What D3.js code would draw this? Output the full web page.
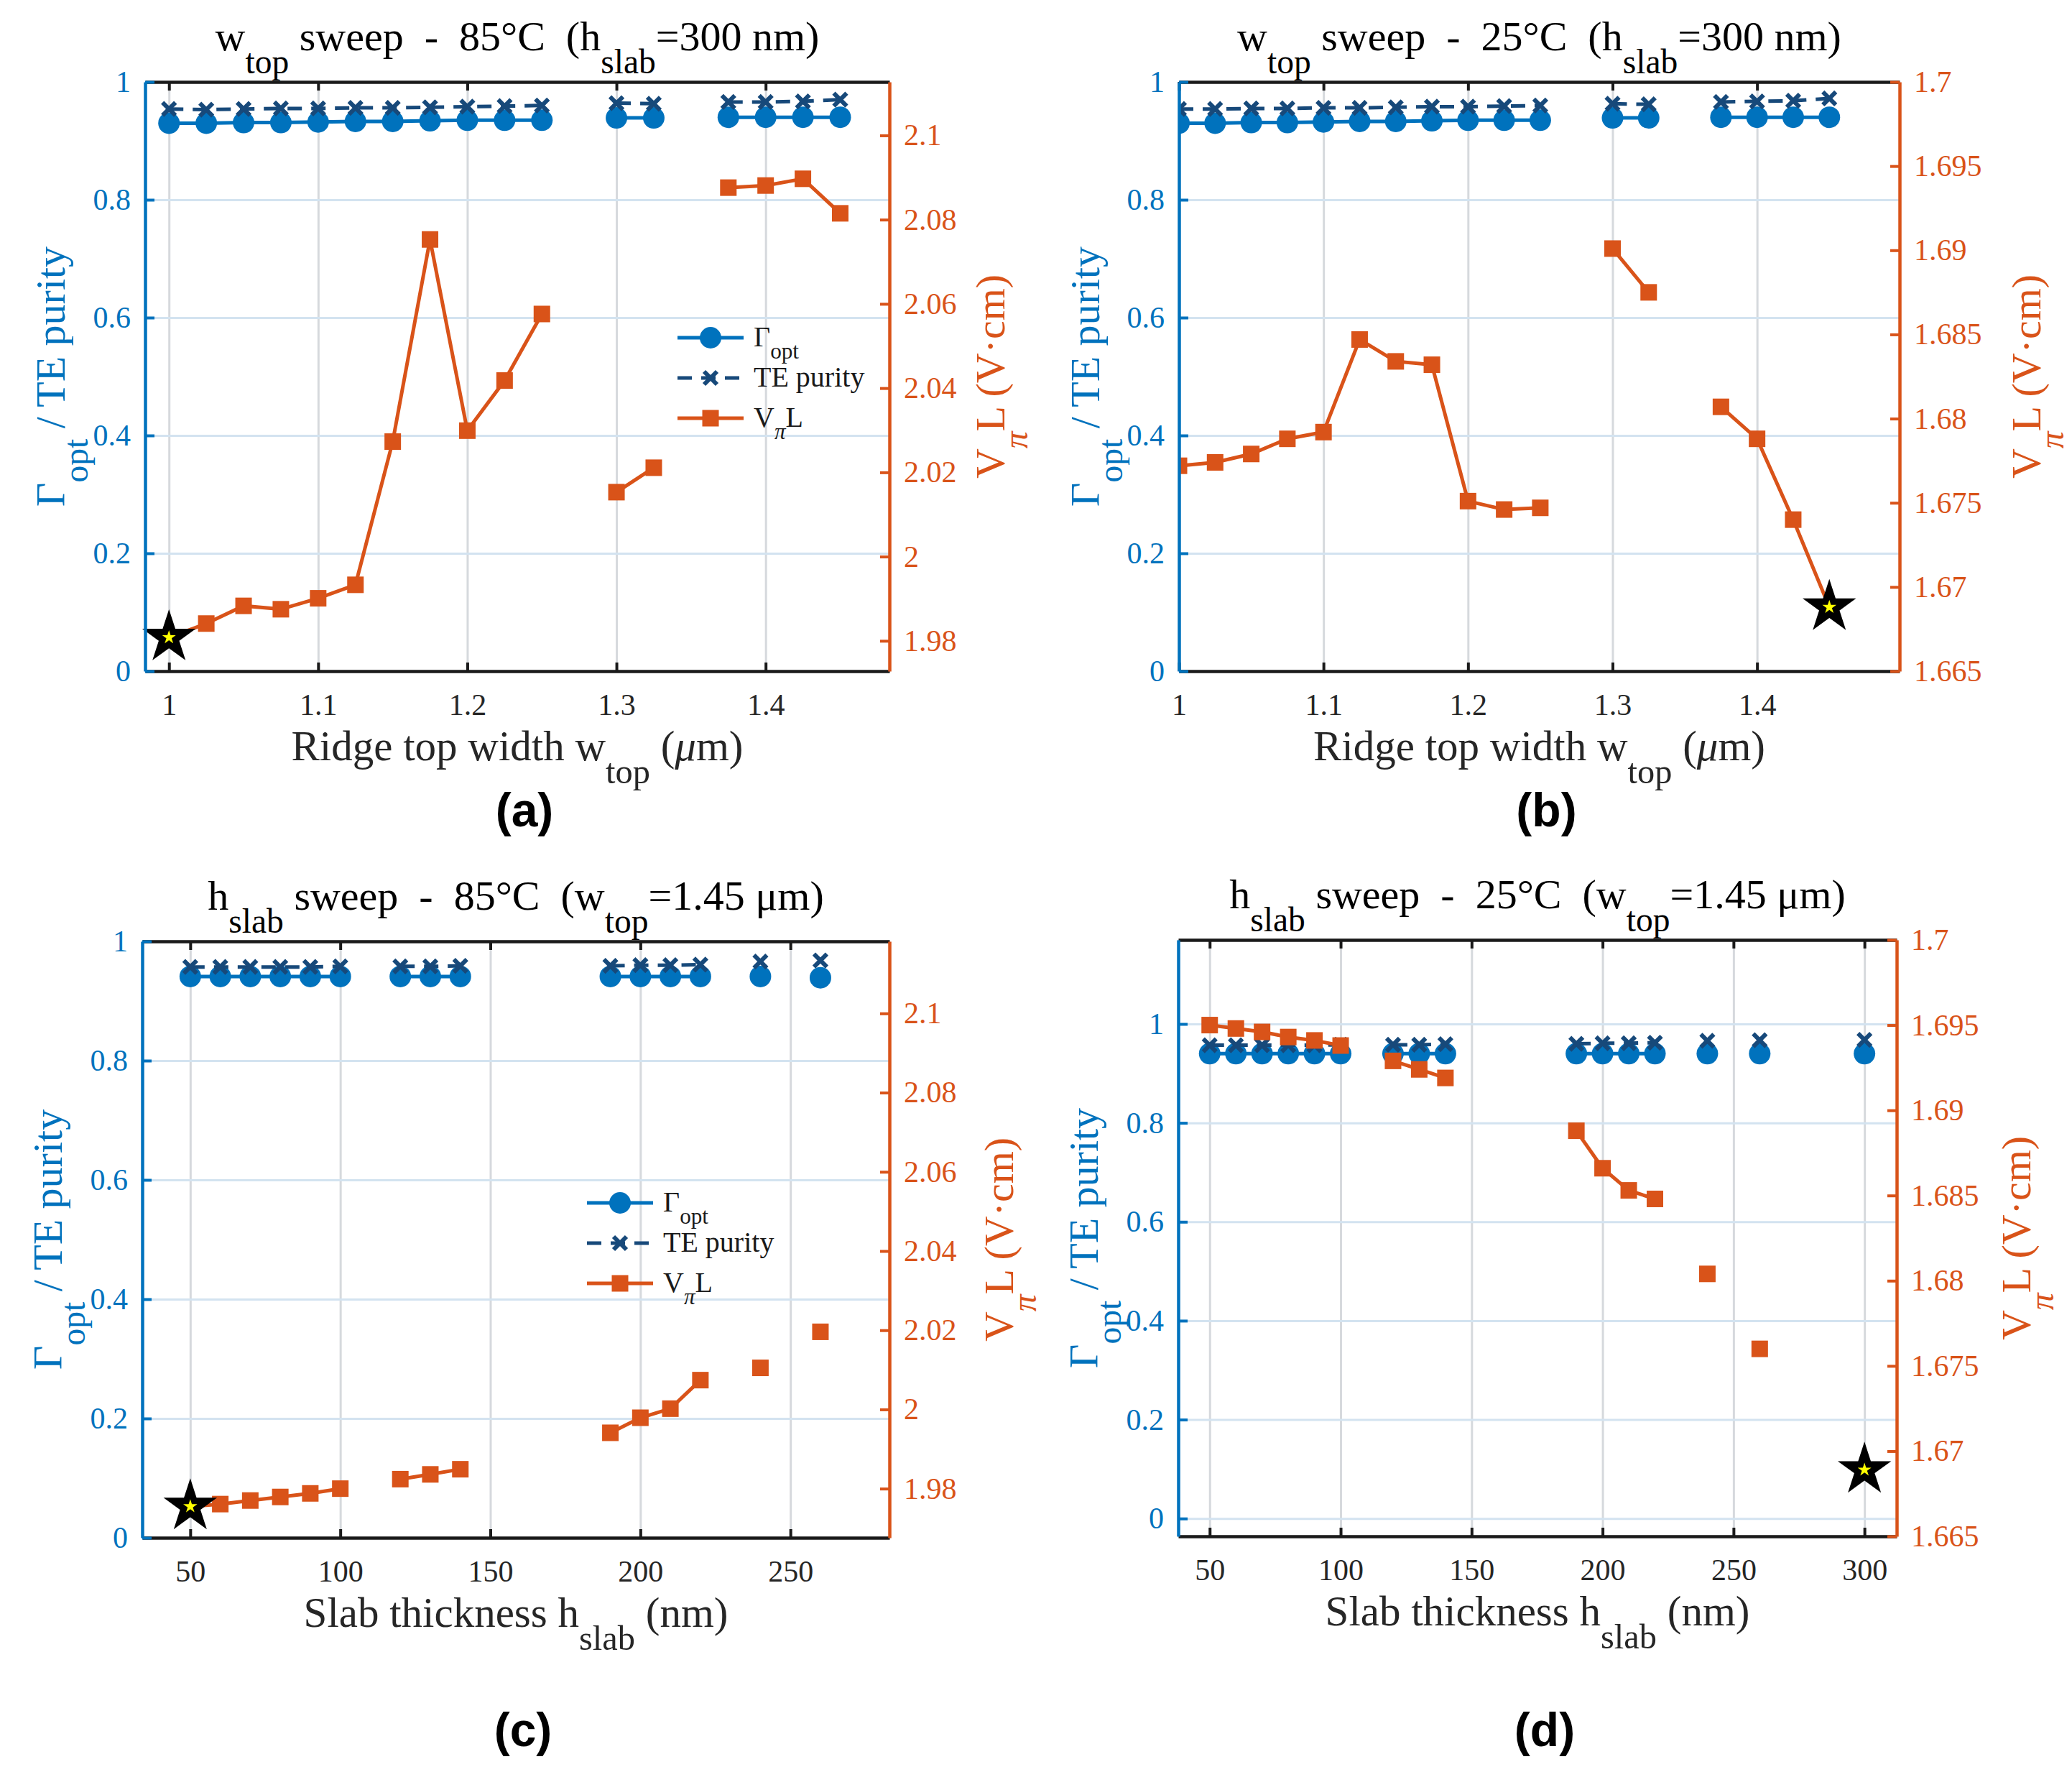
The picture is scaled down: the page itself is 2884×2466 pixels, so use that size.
<!DOCTYPE html>
<html>
<head>
<meta charset="utf-8">
<script src="https://cdn.jsdelivr.net/npm/d3@7"></script>
<style>
  body { margin: 0; background: #fff; }
  text { white-space: pre; }
  .tk text { font-family: "Liberation Serif", serif; }
</style>
</head>
<body>
<svg id="fig" width="2884" height="2466"></svg>
<script>
// ---- data (null = point not computed, breaks the line) ----
const wTop = [1.000, 1.025, 1.050, 1.075, 1.100, 1.125, 1.150, 1.175, 1.200, 1.225,
              1.250, 1.275, 1.300, 1.325, 1.350, 1.375, 1.400, 1.425, 1.450];

// (a) w_top sweep, 85 C
const gammaA = [0.930, 0.930, 0.931, 0.931, 0.932, 0.933, 0.933, 0.934, 0.935, 0.935,
                0.935, null, 0.939, 0.939, null, 0.940, 0.940, 0.940, 0.940];
const teA    = [0.954, 0.953, 0.954, 0.955, 0.955, 0.956, 0.956, 0.957, 0.958, 0.959,
                0.960, null, 0.964, 0.963, null, 0.966, 0.966, 0.967, 0.970];
const vplA   = [1.9808, 1.9841, 1.9883, 1.9875, 1.9901, 1.9933, 2.0273, 2.0753, 2.0299, 2.0418,
                2.0576, null, 2.0153, 2.0211, null, 2.0876, 2.0881, 2.0897, 2.0815];

// (b) w_top sweep, 25 C
const gammaB = [0.930, 0.930, 0.931, 0.931, 0.932, 0.933, 0.933, 0.934, 0.935, 0.935,
                0.935, null, 0.939, 0.939, null, 0.940, 0.940, 0.940, 0.940];
const teB    = [0.954, 0.954, 0.955, 0.955, 0.956, 0.956, 0.957, 0.958, 0.958, 0.959,
                0.960, null, 0.963, 0.962, null, 0.966, 0.967, 0.968, 0.972];
const vplB   = [1.6772, 1.6774, 1.6779, 1.6788, 1.6792, 1.6847, 1.6834, 1.6832, 1.6751, 1.6746,
                1.6747, null, 1.6901, 1.6875, null, 1.6807, 1.6788, 1.6740, 1.6688];

const hSlab = [50, 60, 70, 80, 90, 100, 110, 120, 130, 140, 150, 160, 170, 180, 190,
               200, 210, 220, 230, 240, 250, 260, 270, 280, 290, 300];

// (c) h_slab sweep, 85 C
const gammaC = [0.941, 0.941, 0.941, 0.941, 0.941, 0.941, null, 0.941, 0.941, 0.941, null, null, null, null, 0.941,
                0.941, 0.941, 0.941, null, 0.941, null, 0.939, null, null, null, null];
const teC    = [0.957, 0.957, 0.957, 0.957, 0.957, 0.958, null, 0.958, 0.958, 0.959, null, null, null, null, 0.959,
                0.960, 0.960, 0.961, null, 0.966, null, 0.968, null, null, null, null];
const vplC   = [1.9755, 1.9761, 1.9770, 1.9779, 1.9788, 1.9800, null, 1.9824, 1.9836, 1.9849, null, null, null, null, 1.9941,
                1.9979, 2.0002, 2.0074, null, 2.0105, null, 2.0196, null, null, null, null];

// (d) h_slab sweep, 25 C
const gammaD = [0.940, 0.940, 0.940, 0.940, 0.940, 0.940, null, 0.940, 0.940, 0.940, null, null, null, null, 0.940,
                0.940, 0.940, 0.940, null, 0.940, null, 0.940, null, null, null, 0.940];
const teD    = [0.957, 0.957, 0.957, 0.957, 0.957, 0.958, null, 0.958, 0.958, 0.959, null, null, null, null, 0.960,
                0.961, 0.961, 0.962, null, 0.966, null, 0.967, null, null, null, 0.968];
const vplD   = [1.6950, 1.6948, 1.6946, 1.6943, 1.6941, 1.6938, null, 1.6929, 1.6924, 1.6919, null, null, null, null, 1.6888,
                1.6866, 1.6853, 1.6848, null, 1.6804, null, 1.6760, null, null, null, 1.6689];

// optimum markers (x, VpiL)
const starA = [1.000, 1.9808];
const starB = [1.450, 1.6688];
const starC = [50, 1.9755];
const starD = [300, 1.6689];

const ticksW = [1, 1.1, 1.2, 1.3, 1.4];
const ticksH = [50, 100, 150, 200, 250];
const ticksH2 = [50, 100, 150, 200, 250, 300];
const ticksL = [0, 0.2, 0.4, 0.6, 0.8, 1];
const ticksR85 = [1.98, 2, 2.02, 2.04, 2.06, 2.08, 2.1];
const ticksR25 = [1.665, 1.67, 1.675, 1.68, 1.685, 1.69, 1.695, 1.7];

const BLUE = "#0072BD", ORANGE = "#D95319", NAVY = "#17497A";
const SERIF = "Liberation Serif";
const SANS = "Liberation Sans";

const svg = d3.select("#fig");

// text with subscripts / italics
function rich(sel, parts, o) {
    const drop = o.drop || 0.55, scale = o.subScale || 0.82;
    const t = sel.append("text")
        .attr("x", o.x).attr("y", o.y)
        .attr("font-family", o.font || SERIF)
        .attr("font-size", o.size)
        .attr("fill", o.color || "#000")
        .attr("text-anchor", o.anchor || "middle");
    if (o.rotate) t.attr("transform", `rotate(${o.rotate},${o.x},${o.y})`);
    let cur = 0;
    parts.forEach(p => {
        const off = p.sub ? o.size * drop : 0;
        const ts = t.append("tspan").text(p.t).attr("dy", off - cur);
        if (p.sub) ts.attr("font-size", o.size * scale);
        if (p.it) ts.attr("font-style", "italic");
        cur = off;
    });
    return t;
}

const fmt = d => String(+d.toFixed(3));

function drawPanel(p, idx) {
    const g = svg.append("g");
    const x = d3.scaleLinear().domain(p.xDomain).range([p.left, p.right]);
    const yL = d3.scaleLinear().domain(p.yL).range([p.bottom, p.top]);
    const yR = d3.scaleLinear().domain(p.yR).range([p.bottom, p.top]);
    const h = p.bottom - p.top, w = p.right - p.left;

    const clipId = "clip" + idx;
    g.append("clipPath").attr("id", clipId)
        .append("rect").attr("x", p.left).attr("y", p.top).attr("width", w).attr("height", h);

    // grid
    g.append("g").attr("transform", `translate(0,${p.bottom})`)
        .call(d3.axisBottom(x).tickValues(p.xTicks).tickSize(-h).tickFormat(""))
        .call(s => s.select(".domain").remove())
        .call(s => s.selectAll("text").remove())
        .selectAll("line").attr("stroke", "#d6d9dd").attr("stroke-width", 3);
    g.append("g").attr("transform", `translate(${p.left},0)`)
        .call(d3.axisLeft(yL).tickValues(ticksL).tickSize(-w).tickFormat(""))
        .call(s => s.select(".domain").remove())
        .call(s => s.selectAll("text").remove())
        .selectAll("line").attr("stroke", "#d3e3f0").attr("stroke-width", 3);

    const plot = g.append("g").attr("clip-path", `url(#${clipId})`);
    const pts = p.x.map((xv, i) => ({ x: xv, g: p.gamma[i], te: p.te[i], v: p.vpl[i] }));

    // Gamma_opt
    plot.append("path").datum(pts)
        .attr("d", d3.line().defined(d => d.g != null).x(d => x(d.x)).y(d => yL(d.g)))
        .attr("fill", "none").attr("stroke", BLUE).attr("stroke-width", 5);
    plot.selectAll(".gm").data(pts.filter(d => d.g != null)).join("circle")
        .attr("cx", d => x(d.x)).attr("cy", d => yL(d.g)).attr("r", 15).attr("fill", BLUE);

    // TE purity
    plot.append("path").datum(pts)
        .attr("d", d3.line().defined(d => d.te != null).x(d => x(d.x)).y(d => yL(d.te)))
        .attr("fill", "none").attr("stroke", NAVY).attr("stroke-width", 5)
        .attr("stroke-dasharray", "20,13");
    plot.selectAll(".tm").data(pts.filter(d => d.te != null)).join("path")
        .attr("d", "M-9,-9L9,9M-9,9L9,-9")
        .attr("transform", d => `translate(${x(d.x)},${yL(d.te)})`)
        .attr("stroke", NAVY).attr("stroke-width", 6).attr("fill", "none");

    // VpiL
    plot.append("path").datum(pts)
        .attr("d", d3.line().defined(d => d.v != null).x(d => x(d.x)).y(d => yR(d.v)))
        .attr("fill", "none").attr("stroke", ORANGE).attr("stroke-width", 5);
    plot.selectAll(".vm").data(pts.filter(d => d.v != null)).join("rect")
        .attr("x", d => x(d.x) - 11.5).attr("y", d => yR(d.v) - 11.5)
        .attr("width", 23).attr("height", 23).attr("fill", ORANGE);

    // optimum star
    g.append("path")
        .attr("d", d3.symbol(d3.symbolStar, 680)())
        .attr("transform", `translate(${x(p.star[0])},${yR(p.star[1])})`)
        .attr("fill", "#FFFF00").attr("stroke", "#000").attr("stroke-width", 9)
        .attr("stroke-linejoin", "miter");

    // axes
    const axStyle = (s, color) => {
        s.attr("class", "tk").attr("color", color)
            .attr("font-family", SERIF).attr("font-size", 42);
        s.selectAll("text").attr("font-family", SERIF).attr("font-size", 42);
        s.selectAll("line").attr("stroke-width", 4);
        s.select(".domain").attr("stroke-width", 4.5);
    };
    g.append("g").attr("transform", `translate(0,${p.top})`)
        .call(d3.axisTop(x).tickValues(p.xTicks).tickSizeInner(-12).tickSizeOuter(0).tickFormat(""))
        .call(s => s.selectAll("text").remove())
        .call(axStyle, "#1a1a1a");
    g.append("g").attr("transform", `translate(0,${p.bottom})`)
        .call(d3.axisBottom(x).tickValues(p.xTicks).tickSizeInner(-12).tickSizeOuter(0)
            .tickPadding(31).tickFormat(fmt))
        .call(axStyle, "#1a1a1a")
        .selectAll("text").attr("fill", "#262626");
    g.append("g").attr("transform", `translate(${p.left},0)`)
        .call(d3.axisLeft(yL).tickValues(ticksL).tickSizeInner(-13).tickSizeOuter(0)
            .tickPadding(20).tickFormat(fmt))
        .call(axStyle, BLUE);
    g.append("g").attr("transform", `translate(${p.right},0)`)
        .call(d3.axisRight(yR).tickValues(p.yRTicks).tickSizeInner(-13).tickSizeOuter(0)
            .tickPadding(20).tickFormat(fmt))
        .call(axStyle, ORANGE);

    const cx = (p.left + p.right) / 2, cy = (p.top + p.bottom) / 2;

    // title, axis labels
    rich(g, p.title, { x: cx, y: p.top - 44, size: 58 });
    rich(g, p.xlabel, { x: cx, y: p.bottom + 124, size: 59, color: "#262626" });
    rich(g, [{ t: "\u0393" }, { t: "opt", sub: true }, { t: " / TE purity" }],
        { x: p.yLabX, y: cy, size: 58, color: BLUE, rotate: -90 });
    rich(g, [{ t: "V" }, { t: "\u03c0", sub: true, it: true }, { t: "L (V\u00b7cm)" }],
        { x: p.yRLabX, y: cy, size: 58, color: ORANGE, rotate: -90 });

    // panel tag
    g.append("text").attr("x", cx + 10).attr("y", p.tagY)
        .attr("text-anchor", "middle").attr("font-family", SANS)
        .attr("font-weight", "bold").attr("font-size", 66).attr("fill", "#000")
        .text(p.tag);

    // legend
    if (p.legend) {
        const L = p.legend;
        const rows = [
            { parts: [{ t: "\u0393" }, { t: "opt", sub: true }], color: BLUE, dash: null, mk: "circle" },
            { parts: [{ t: "TE purity" }], color: NAVY, dash: "20,13", mk: "x" },
            { parts: [{ t: "V" }, { t: "\u03c0", sub: true, it: true }, { t: "L" }], color: ORANGE, dash: null, mk: "square" }
        ];
        rows.forEach((r, i) => {
            const yy = L.y + i * L.dy;
            const mx = L.x + 46;
            g.append("line").attr("x1", L.x).attr("x2", L.x + 92).attr("y1", yy).attr("y2", yy)
                .attr("stroke", r.color).attr("stroke-width", 5)
                .attr("stroke-dasharray", r.dash);
            if (r.mk === "circle") {
                g.append("circle").attr("cx", mx).attr("cy", yy).attr("r", 15).attr("fill", r.color);
            } else if (r.mk === "x") {
                g.append("path").attr("d", "M-9,-9L9,9M-9,9L9,-9")
                    .attr("transform", `translate(${mx},${yy})`)
                    .attr("stroke", r.color).attr("stroke-width", 6);
            } else {
                g.append("rect").attr("x", mx - 11.5).attr("y", yy - 11.5)
                    .attr("width", 23).attr("height", 23).attr("fill", r.color);
            }
            rich(g, r.parts, { x: L.x + 106, y: yy + 12, size: 40, anchor: "start", color: "#1a1a1a",
                drop: 0.42, subScale: 0.78 });
        });
    }
}

const titleW = temp => [{ t: "w" }, { t: "top", sub: true }, { t: ` sweep  -  ${temp}\u00b0C  (h` },
    { t: "slab", sub: true }, { t: "=300 nm)" }];
const titleH = temp => [{ t: "h" }, { t: "slab", sub: true }, { t: ` sweep  -  ${temp}\u00b0C  (w` },
    { t: "top", sub: true }, { t: "=1.45 \u03bcm)" }];
const xlabW = [{ t: "Ridge top width w" }, { t: "top", sub: true }, { t: " (" }, { t: "\u03bc", it: true }, { t: "m)" }];
const xlabH = [{ t: "Slab thickness h" }, { t: "slab", sub: true }, { t: " (nm)" }];

const panels = [
    { left: 202, right: 1238, top: 114, bottom: 934, xDomain: [0.984, 1.483], xTicks: ticksW,
      yL: [0, 1], yR: [1.9728, 2.1127], yRTicks: ticksR85,
      x: wTop, gamma: gammaA, te: teA, vpl: vplA, star: starA,
      title: titleW(85), xlabel: xlabW, yLabX: 90, yRLabX: 1398,
      tag: "(a)", tagY: 1150, legend: { x: 943, y: 470, dy: 56 } },
    { left: 1641, right: 2644, top: 114, bottom: 934, xDomain: [1.0, 1.4986], xTicks: ticksW,
      yL: [0, 1], yR: [1.665, 1.7], yRTicks: ticksR25,
      x: wTop, gamma: gammaB, te: teB, vpl: vplB, star: starB,
      title: titleW(25), xlabel: xlabW, yLabX: 1530, yRLabX: 2840,
      tag: "(b)", tagY: 1150, legend: null },
    { left: 198, right: 1238, top: 1310, bottom: 2140, xDomain: [34, 283], xTicks: ticksH,
      yL: [0, 1], yR: [1.9676, 2.1182], yRTicks: ticksR85,
      x: hSlab, gamma: gammaC, te: teC, vpl: vplC, star: starC,
      title: titleH(85), xlabel: xlabH, yLabX: 86, yRLabX: 1410,
      tag: "(c)", tagY: 2430, legend: { x: 817, y: 1674, dy: 56 } },
    { left: 1640, right: 2640, top: 1308, bottom: 2138, xDomain: [38, 312.3], xTicks: ticksH2,
      yL: [-0.036, 1.17], yR: [1.665, 1.7], yRTicks: ticksR25,
      x: hSlab, gamma: gammaD, te: teD, vpl: vplD, star: starD,
      title: titleH(25), xlabel: xlabH, yLabX: 1528, yRLabX: 2826,
      tag: "(d)", tagY: 2430, legend: null }
];

panels.forEach((p, i) => drawPanel(p, i));
</script>
</body>
</html>
